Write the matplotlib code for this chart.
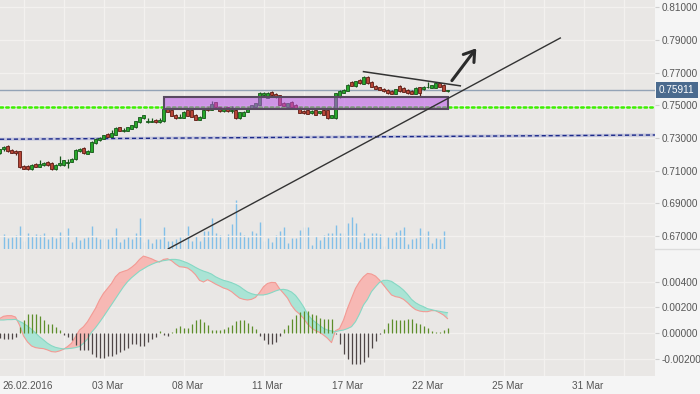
import matplotlib
matplotlib.use('Agg')
import matplotlib.pyplot as plt
import matplotlib.transforms as mtransforms
from matplotlib.patches import Rectangle, FancyArrowPatch
from matplotlib.lines import Line2D
import numpy as np

plt.rcParams['font.family'] = ['Liberation Sans', 'DejaVu Sans']
plt.rcParams['axes.unicode_minus'] = False

# ---- candle data (one bar per index) ----
opens = [0.7207, 0.7231, 0.7251, 0.7227, 0.7223, 0.7219, 0.7129, 0.7129, 0.7109, 0.7141,
         0.7125, 0.7133, 0.7153, 0.7149, 0.7109, 0.7133, 0.7133, 0.7149, 0.7153, 0.7170,
         0.7219, 0.7239, 0.7202, 0.7215, 0.7268, 0.7288, 0.7296, 0.7325, 0.7308, 0.7321,
         0.7366, 0.7343, 0.7345, 0.7357, 0.7366, 0.7397, 0.7419, 0.7397, 0.7397, 0.7411,
         0.7395, 0.7403, 0.7480, 0.7468, 0.7443, 0.7425, 0.7423, 0.7468, 0.7472, 0.7443,
         0.7411, 0.7423, 0.7484, 0.7472, 0.7517, 0.7489, 0.7464, 0.7489, 0.7466, 0.7472,
         0.7419, 0.7435, 0.7460, 0.7484, 0.7490, 0.7504, 0.7562, 0.7545, 0.7582, 0.7570,
         0.7562, 0.7516, 0.7492, 0.7521, 0.7504, 0.7484, 0.7464, 0.7472, 0.7455, 0.7468,
         0.7452, 0.7472, 0.7468, 0.7425, 0.7419, 0.7549, 0.7576, 0.7590, 0.7643, 0.7615,
         0.7655, 0.7631, 0.7676, 0.7643, 0.7619, 0.7611, 0.7602, 0.7594, 0.7590, 0.7570,
         0.7619, 0.7606, 0.7594, 0.7590, 0.7570, 0.7611, 0.7598, 0.7611, 0.7606, 0.7606,
         0.7635, 0.7627, 0.7588]
highs = [0.7235, 0.7253, 0.7254, 0.7230, 0.7226, 0.7222, 0.7132, 0.7132, 0.7140, 0.7144,
         0.7162, 0.7153, 0.7156, 0.7152, 0.7140, 0.7190, 0.7165, 0.7174, 0.7177, 0.7230,
         0.7239, 0.7242, 0.7226, 0.7279, 0.7299, 0.7305, 0.7320, 0.7328, 0.7349, 0.7365,
         0.7369, 0.7359, 0.7369, 0.7381, 0.7406, 0.7429, 0.7443, 0.7423, 0.7419, 0.7414,
         0.7423, 0.7479, 0.7483, 0.7471, 0.7446, 0.7447, 0.7463, 0.7474, 0.7475, 0.7446,
         0.7434, 0.7475, 0.7487, 0.7525, 0.7520, 0.7492, 0.7487, 0.7492, 0.7495, 0.7475,
         0.7459, 0.7463, 0.7487, 0.7504, 0.7514, 0.7582, 0.7582, 0.7582, 0.7585, 0.7573,
         0.7565, 0.7519, 0.7516, 0.7524, 0.7507, 0.7487, 0.7470, 0.7475, 0.7468, 0.7471,
         0.7467, 0.7475, 0.7471, 0.7442, 0.7577, 0.7593, 0.7599, 0.7630, 0.7646, 0.7650,
         0.7658, 0.7679, 0.7679, 0.7646, 0.7622, 0.7614, 0.7605, 0.7597, 0.7593, 0.7601,
         0.7622, 0.7609, 0.7597, 0.7593, 0.7609, 0.7614, 0.7617, 0.7643, 0.7626, 0.7643,
         0.7638, 0.7630, 0.7595]
lows = [0.7203, 0.7223, 0.7216, 0.7207, 0.7196, 0.7118, 0.7108, 0.7106, 0.7106, 0.7122,
        0.7122, 0.7129, 0.7130, 0.7106, 0.7106, 0.7130, 0.7130, 0.7117, 0.7150, 0.7167,
        0.7216, 0.7204, 0.7199, 0.7212, 0.7265, 0.7280, 0.7293, 0.7305, 0.7305, 0.7318,
        0.7342, 0.7335, 0.7342, 0.7354, 0.7363, 0.7394, 0.7416, 0.7394, 0.7395, 0.7392,
        0.7392, 0.7400, 0.7457, 0.7432, 0.7416, 0.7419, 0.7420, 0.7432, 0.7428, 0.7408,
        0.7408, 0.7420, 0.7465, 0.7469, 0.7486, 0.7461, 0.7461, 0.7461, 0.7450, 0.7416,
        0.7416, 0.7432, 0.7457, 0.7481, 0.7487, 0.7501, 0.7559, 0.7542, 0.7559, 0.7546,
        0.7501, 0.7493, 0.7489, 0.7489, 0.7481, 0.7452, 0.7447, 0.7444, 0.7447, 0.7440,
        0.7449, 0.7440, 0.7416, 0.7422, 0.7416, 0.7546, 0.7573, 0.7587, 0.7616, 0.7612,
        0.7632, 0.7628, 0.7632, 0.7611, 0.7599, 0.7591, 0.7583, 0.7571, 0.7567, 0.7567,
        0.7583, 0.7579, 0.7571, 0.7567, 0.7567, 0.7553, 0.7595, 0.7608, 0.7603, 0.7603,
        0.7611, 0.7587, 0.7584]
closes = [0.7231, 0.7247, 0.7219, 0.7210, 0.7207, 0.7121, 0.7111, 0.7109, 0.7137, 0.7125,
          0.7141, 0.7149, 0.7133, 0.7109, 0.7137, 0.7146, 0.7162, 0.7155, 0.7174, 0.7227,
          0.7235, 0.7207, 0.7223, 0.7276, 0.7296, 0.7300, 0.7317, 0.7308, 0.7333, 0.7362,
          0.7345, 0.7351, 0.7366, 0.7378, 0.7403, 0.7426, 0.7440, 0.7405, 0.7403, 0.7395,
          0.7411, 0.7476, 0.7460, 0.7435, 0.7419, 0.7431, 0.7460, 0.7435, 0.7431, 0.7411,
          0.7431, 0.7472, 0.7468, 0.7505, 0.7489, 0.7464, 0.7484, 0.7464, 0.7474, 0.7419,
          0.7456, 0.7460, 0.7484, 0.7501, 0.7511, 0.7578, 0.7574, 0.7574, 0.7562, 0.7549,
          0.7504, 0.7496, 0.7513, 0.7492, 0.7484, 0.7455, 0.7455, 0.7447, 0.7464, 0.7443,
          0.7464, 0.7443, 0.7419, 0.7439, 0.7574, 0.7590, 0.7596, 0.7627, 0.7619, 0.7647,
          0.7635, 0.7676, 0.7635, 0.7614, 0.7602, 0.7594, 0.7586, 0.7574, 0.7570, 0.7598,
          0.7586, 0.7582, 0.7574, 0.7570, 0.7606, 0.7578, 0.7614, 0.7614, 0.7623, 0.7635,
          0.7614, 0.7590, 0.7591]
volume = [0, 15, 11, 12, 14, 23, 8, 16, 13, 15, 14, 16, 10, 13, 11, 17, 14, 21, 7, 13,
          9, 11, 12, 23, 12, 10, 11, 10, 12, 21, 7, 10, 12, 10, 16, 31, 7, 10, 6, 10,
          10, 22, 8, 8, 10, 12, 14, 23, 8, 13, 8, 18, 18, 31, 16, 14, 10, 15, 25, 49,
          17, 14, 12, 18, 16, 27, 8, 11, 7, 14, 18, 22, 6, 11, 11, 19, 22, 22, 4, 13,
          9, 14, 16, 16, 24, 16, 16, 26, 32, 26, 7, 16, 11, 16, 16, 15, 3, 12, 11, 17,
          19, 22, 5, 10, 11, 21, 16, 18, 6, 11, 10, 18, 0]

# ---- MACD panel (values in thousandths) ----
macd_e3 = [1.12, 1.30, 1.35, 1.35, 1.24, 0.62, -0.23, -0.70, -1.01, -1.14,
           -1.19, -1.22, -1.32, -1.45, -1.48, -1.40, -1.27, -1.06, -0.80, -0.29,
           0.23, 0.49, 0.88, 1.40, 1.92, 2.57, 3.09, 3.47, 3.86, 4.38,
           4.69, 4.80, 4.90, 5.11, 5.37, 5.73, 5.99, 5.89, 5.78, 5.63,
           5.52, 5.73, 5.78, 5.63, 5.37, 5.16, 5.13, 5.06, 4.85, 4.54,
           4.10, 3.97, 4.15, 3.99, 3.81, 3.66, 3.50, 3.40, 3.22, 2.96,
           2.72, 2.62, 2.57, 2.62, 2.77, 3.14, 3.60, 3.86, 3.94, 3.92,
           3.45, 3.09, 2.72, 2.15, 1.74, 1.48, 1.14, 0.70, 0.39, 0.18,
           0.05, -0.16, -0.41, -0.75, 0.18, 0.34, 1.01, 1.92, 2.70, 3.47,
           3.99, 4.38, 4.64, 4.59, 4.43, 4.12, 3.73, 3.34, 2.96, 2.83,
           2.77, 2.62, 2.36, 2.05, 1.82, 1.71, 1.66, 1.66, 1.74, 1.74,
           1.58, 1.40, 1.12]
signal_e3 = [1.01, 1.01, 1.04, 1.04, 1.06, 0.91, 0.75, 0.54, 0.29, 0.00,
             -0.29, -0.54, -0.80, -0.99, -1.12, -1.19, -1.24, -1.22, -1.19, -1.14,
             -1.06, -0.80, -0.47, 0.05, 0.41, 0.83, 1.27, 1.74, 2.20, 2.67,
             3.14, 3.60, 3.99, 4.30, 4.56, 4.82, 5.00, 5.19, 5.34, 5.47,
             5.57, 5.63, 5.68, 5.73, 5.73, 5.68, 5.57, 5.45, 5.29, 5.11,
             4.95, 4.82, 4.72, 4.59, 4.38, 4.23, 4.10, 4.02, 3.92, 3.79,
             3.63, 3.40, 3.19, 3.06, 2.98, 2.96, 2.96, 3.03, 3.14, 3.27,
             3.37, 3.40, 3.34, 3.19, 2.93, 2.52, 2.05, 1.48, 1.09, 0.83,
             0.60, 0.36, 0.23, 0.16, 0.10, 0.18, 0.23, 0.34, 0.49, 0.88,
             1.48, 2.18, 2.62, 3.22, 3.60, 3.94, 4.10, 4.10, 4.02, 3.81,
             3.60, 3.34, 3.01, 2.62, 2.36, 2.18, 2.05, 1.89, 1.82, 1.74,
             1.69, 1.63, 1.58]
hist_e3 = [-0.40, -0.49, -0.49, -0.44, -0.29, 0.47, 1.04, 1.45, 1.50, 1.50,
           1.30, 0.99, 0.73, 0.67, 0.47, 0.21, -0.13, -0.31, -0.52, -0.96,
           -1.35, -1.35, -1.35, -1.61, -1.87, -1.97, -1.92, -1.82, -1.76, -1.66,
           -1.48, -1.30, -1.14, -0.88, -0.88, -1.04, -0.99, -0.70, -0.49, -0.31,
           0.16, -0.16, -0.21, 0.08, 0.41, 0.52, 0.41, 0.39, 0.73, 0.99,
           1.11, 0.86, 0.60, 0.26, 0.26, 0.26, 0.34, 0.47, 0.60, 0.93,
           1.04, 1.04, 0.78, 0.54, 0.29, -0.23, -0.57, -0.83, -0.88, -0.70,
           -0.23, 0.29, 0.60, 1.06, 1.37, 1.63, 1.69, 1.69, 1.50, 1.37,
           1.19, 1.06, 1.09, 1.09, -0.05, -0.83, -1.61, -2.05, -2.39, -2.44,
           -2.39, -2.26, -1.87, -1.14, -0.62, -0.08, 0.34, 0.78, 1.11, 0.99,
           0.99, 1.04, 1.09, 1.09, 0.78, 0.73, 0.52, 0.36, 0.16, 0.05,
           0.05, 0.26, 0.41]

date_ticks = [6, 26, 46, 66, 86, 106, 126, 146]
date_labels = ['26.02.2016', '03 Mar', '08 Mar', '11 Mar', '17 Mar', '22 Mar', '25 Mar', '31 Mar']
price_ticks = [0.67, 0.69, 0.71, 0.73, 0.75, 0.77, 0.79, 0.81]
macd_ticks = [-0.002, 0.0, 0.002, 0.004]
last_price = 0.75911

# drawn objects on the price chart
support_level = 0.7491
channel_line = ([0.125, 163.875], [0.7292, 0.7318])
zone = (41.0, 112.1, 0.7479, 0.7553)     # x0, x1, low, high
trend_up = ([42.2, 140.2], [0.6621, 0.7912])
trend_down = ([91.0, 115.2], [0.7706, 0.7619])
arrow_pts = ((113.1, 0.7651), (119.2, 0.7849))

BG_PLOT = '#e9e7e5'
BG_FIG = '#f5f5f5'
GRID = '#f3f1ef'
TXT = '#555555'

fig = plt.figure(figsize=(7, 3.94), dpi=100, facecolor=BG_FIG)
W, H = 700.0, 394.0
rect_price = [0, (H - 249) / H, 655 / W, 249 / H]
rect_macd = [0, 18 / H, 655 / W, 127 / H]

xlim = (0.125, 163.875)
idx = np.arange(len(opens))
minor_x = np.arange(6, 164, 10)

# volume lives in its own axes underneath the price axes
axv = fig.add_axes(rect_price, facecolor=BG_PLOT, zorder=1)
axv.vlines(idx, 0, volume, colors='#82bfe8', lw=1.0)
axv.set_xlim(xlim)
axv.set_ylim(0, 249)
for sp in axv.spines.values():
    sp.set_visible(False)
axv.set_xticks([])
axv.set_yticks([])

ax = fig.add_axes(rect_price, zorder=2)
ax.patch.set_visible(False)
ax.set_xlim(xlim)
ax.set_ylim(0.66198, 0.81447)

o = np.array(opens)
c = np.array(closes)
up = c >= o
wick_col = np.where(up, '#17561a', '#5e1c14')
body_col = np.where(up, '#27a82a', '#b84637')
ax.vlines(idx, lows, highs, colors=wick_col, lw=0.9, zorder=3)
ax.bar(idx, np.abs(c - o), bottom=np.minimum(o, c), width=0.85,
       color=body_col, edgecolor=wick_col, lw=0.6, zorder=4)

ax.axhline(last_price, color='#93a3b6', lw=1, zorder=2)
ax.axhline(support_level, color='#3df000', lw=1.8, ls=(0, (1, 1.3)),
           dash_capstyle='round', zorder=2)
ax.plot(channel_line[0], channel_line[1], color='#b3b6d8', lw=2.2, alpha=0.7, zorder=2)
ax.plot(channel_line[0], channel_line[1], color='#1c2a8a', lw=1, ls=(0, (3, 2)), zorder=2)

ax.add_patch(Rectangle((zone[0], zone[2]), zone[1] - zone[0], zone[3] - zone[2],
                       facecolor=(0.72, 0.32, 0.9, 0.55), edgecolor='#584a60', lw=1.5, zorder=5))

ax.plot(trend_up[0], trend_up[1], color='#333333', lw=1, zorder=6)
ax.plot(trend_down[0], trend_down[1], color='#333333', lw=1.1, zorder=6)
ax.add_patch(FancyArrowPatch(arrow_pts[0], arrow_pts[1],
                             arrowstyle='->,head_length=0.45,head_width=0.3',
                             mutation_scale=16, lw=2.2, color='#2b2b2b',
                             shrinkA=0, shrinkB=0, zorder=7))

# last price tag
tr = mtransforms.blended_transform_factory(ax.transAxes, ax.transData)
ax.text(1 + 4 / 655, last_price, f'{last_price:.5f}', transform=tr, ha='left', va='center',
        fontsize=7.2, color='white', zorder=10, clip_on=False,
        bbox=dict(boxstyle='square,pad=0.3', fc='#4a6a8e', ec='none'))

# ---- MACD panel ----
axm = fig.add_axes(rect_macd, facecolor=BG_PLOT)
axm.set_xlim(xlim)
axm.set_ylim(-0.00335, 0.00654)
m = np.array(macd_e3) / 1000
s = np.array(signal_e3) / 1000
h = np.array(hist_e3) / 1000
axm.fill_between(idx, m, s, where=m >= s, interpolate=True, color='#f7b8b4', lw=0, zorder=2)
axm.fill_between(idx, m, s, where=m < s, interpolate=True, color='#aae4d5', lw=0, zorder=2)
axm.plot(idx, m, color='#f39a94', lw=0.8, zorder=3)
axm.plot(idx, s, color='#86d8c4', lw=0.8, zorder=3)
axm.vlines(idx, 0, h, colors=np.where(h >= 0, '#5d8e2b', '#4e4646'), lw=0.9, zorder=4)

for a, ticks in ((ax, price_ticks), (axm, macd_ticks)):
    for sp in a.spines.values():
        sp.set_visible(False)
    a.yaxis.tick_right()
    a.set_yticks(ticks)
    a.set_yticklabels([f'{t:.5f}' for t in ticks])
    a.tick_params(axis='y', direction='out', length=3, width=0.8, color='#cfcfcf',
                  labelsize=7.2, labelcolor=TXT, pad=1.5)
    a.set_xticks(date_ticks)
    a.set_xticks(minor_x, minor=True)
    a.tick_params(axis='x', which='both', length=0)
    a.grid(True, which='both', axis='x', color=GRID, lw=1, zorder=0)
    a.grid(True, which='major', axis='y', color=GRID, lw=1, zorder=0)
    a.set_axisbelow(True)

ax.set_xticklabels([])
axm.set_xticklabels(date_labels)
axm.tick_params(axis='x', labelsize=7.2, labelcolor=TXT, pad=3.5)
shift = mtransforms.ScaledTranslation(4 / 100, 0, fig.dpi_scale_trans)
for lab in axm.get_xticklabels():
    lab.set_transform(lab.get_transform() + shift)

fig.add_artist(Line2D([655 / W, 1], [(H - 249) / H] * 2, color='#dcdcdc', lw=1))

fig.savefig('out.png', dpi=100, facecolor=BG_FIG)
